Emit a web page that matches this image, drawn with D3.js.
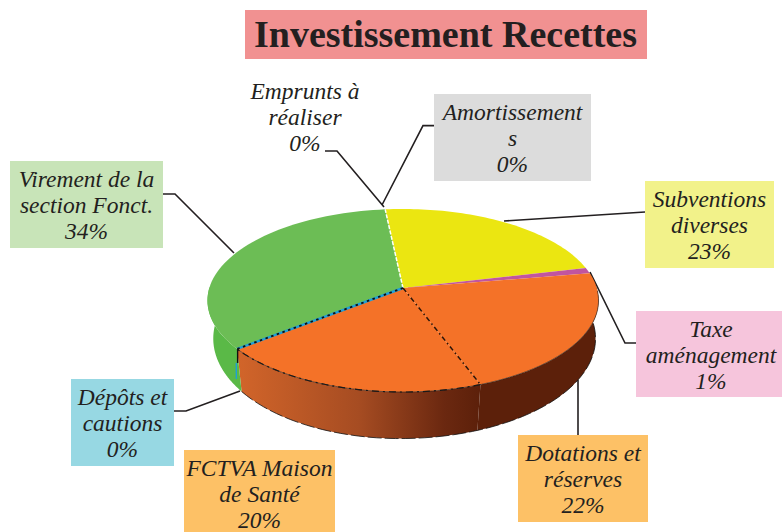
<!DOCTYPE html>
<html><head><meta charset="utf-8">
<script src="https://cdn.jsdelivr.net/npm/d3@7"></script>
<style>html,body{margin:0;padding:0;background:#fff}svg{display:block}</style>
</head><body><svg id="c" width="782" height="532"></svg>
<script>
const categories = ["Subventions diverses","Taxe aménagement","Dotations et réserves","FCTVA Maison de Santé","Dépôts et cautions","Virement de la section Fonct.","Emprunts à réaliser","Amortissements"];
const values = [23,1,22,20,0,34,0,0];
const sliceColors = ["#ebe611","#c1559f","#f47228","#f47228","#1f9fd8","#6cbd55","#ffffff","#dcdcdc"];
const labelLines = [["Subventions","diverses","23%"],["Taxe","aménagement","1%"],["Dotations et","réserves","22%"],["FCTVA Maison","de Santé","20%"],["Dépôts et","cautions","0%"],["Virement de la","section Fonct.","34%"],["Emprunts à","réaliser","0%"],["Amortissement","s","0%"]];
const boxFills = ["#f2f28a","#f6c5dc","#fdc166","#fdc166","#97d8e3","#c8e4b8",null,"#dcdcdc"];
const boxes = [[645,181,129,87],[636,311,146,86],[518,435,130,87],[184,450,151,82],[71,379,103,87],[10,161,153,87],[232,73,146,87],[434,94,157,87]];
const textDx = [0,2,0,0,0,0,0,0];
const leaders = [[[645,212],[504,221]],[[636,343],[625,343],[590,272]],[[578,435],[578,380]],null,[[174,411],[186,411],[240,391]],[[163,194],[175,194],[234,253]],[[325,151],[337,151],[384,207]],[[434,125.6],[423,125.6],[382,205]]];

const svg = d3.select("#c");
const serif = "'Liberation Serif',serif";
const ink = "#231f20";

// pie angles, clockwise from the back of the disc
const startAngle = -6*Math.PI/180;
const arcs = d3.pie().sort(null).value(d=>d).startAngle(startAngle).endAngle(startAngle+2*Math.PI)(values);

// perspective projection of the disc
const cx=403, cy=288, R=193.7, B=89.8, K=0.1366;
const px=a=>cx+R*Math.sin(a)/(1+K*Math.cos(a));
const py=a=>cy-B*Math.cos(a)/(1+K*Math.cos(a));
const bx=a=>cx-3+(px(a)-cx)*(Math.sin(a)<0?0.955:1);
const by=a=>338+1.093*(py(a)-300);
const ring=(a0,a1)=>d3.range(0,61).map(i=>a0+(a1-a0)*i/60);
const line=d3.line();
const defs=svg.append("defs");
const grad=defs.append("linearGradient").attr("id","fctva").attr("gradientUnits","userSpaceOnUse")
  .attr("x1",px(arcs[3].endAngle)).attr("x2",px(arcs[3].startAngle)).attr("y1",0).attr("y2",0);
[[0,"#d2652a"],[0.5,"#a64c22"],[0.85,"#6b2810"],[1,"#5c200a"]].forEach(s=>grad.append("stop").attr("offset",s[0]).attr("stop-color",s[1]));

// title
svg.append("rect").attr("x",245).attr("y",10).attr("width",402).attr("height",49).attr("fill","#f19191");
svg.append("text").attr("x",445.5).attr("y",47).attr("text-anchor","middle").attr("font-family",serif).attr("font-weight","bold").attr("font-size",38).attr("fill",ink).text("Investissement Recettes");

// leaders
leaders.forEach(l=>{ if(l) svg.append("path").attr("d",line(l)).attr("fill","none").attr("stroke",ink).attr("stroke-width",1.6); });

// side walls
const wall=(a0,a1,fill)=>{
  const top=ring(a0,a1).map(a=>[px(a),py(a)]);
  const bot=ring(a0,a1).reverse().map(a=>[bx(a),by(a)]);
  return svg.append("path").attr("d",line(top.concat(bot))+"Z").attr("fill",fill);
};
wall(arcs[2].startAngle,arcs[2].endAngle,"#5c200a");
wall(arcs[3].startAngle,arcs[3].endAngle,"url(#fctva)");
wall(arcs[5].startAngle,arcs[5].startAngle+(arcs[5].endAngle-arcs[5].startAngle)*0.32,"#5ab947");
// bottom outline
svg.append("path").attr("d",line(ring(arcs[5].startAngle,arcs[2].startAngle).map(a=>[bx(a),by(a)])))
  .attr("fill","none").attr("stroke","#111").attr("stroke-width",0.8).attr("stroke-dasharray","14 3");

// top face
arcs.forEach((d,i)=>{
  if(d.endAngle-d.startAngle<=0) return;
  const pts=[[cx,cy]].concat(ring(d.startAngle,d.endAngle).map(a=>[px(a),py(a)]));
  svg.append("path").attr("d",line(pts)+"Z").attr("fill",sliceColors[i]);
});
const seam=(a,color,w,dash)=>svg.append("path").attr("d",line([[cx,cy],[px(a),py(a)]]))
  .attr("stroke",color).attr("stroke-width",w).attr("stroke-dasharray",dash).attr("fill","none");
seam(arcs[0].startAngle,"#ffffff",1.5,"4 1.5");
seam(arcs[4].startAngle,"#1f9fd8",2.4,null);
seam(arcs[4].startAngle,"#111",1.8,"2.5 3.5");
seam(arcs[3].startAngle,"#2a1408",1.5,"5 3 1.5 3");
// rim outline
svg.append("path").attr("d",line(ring(arcs[3].startAngle,arcs[4].startAngle).map(a=>[px(a),py(a)])))
  .attr("fill","none").attr("stroke","#111").attr("stroke-width",1.2).attr("stroke-dasharray","7 4 2 4");
svg.append("path").attr("d",line(ring(arcs[5].startAngle,arcs[2].startAngle+0.2).map(a=>[px(a),py(a)])))
  .attr("fill","none").attr("stroke","#222").attr("stroke-width",0.6);
// dark corner at the left of the front wall
const a4=arcs[4].startAngle;
svg.append("path").attr("d",line([[px(a4)+0.5,py(a4)],[px(a4)+0.5,py(a4)+14]])).attr("stroke","#111").attr("stroke-width",1.4);
svg.append("path").attr("d",line([[px(a4)-0.8,py(a4)+14],[px(a4)-0.8,py(a4)+30]])).attr("stroke","#1f9fd8").attr("stroke-width",1.4);

// labels
categories.forEach((c,i)=>{
  const b=boxes[i];
  const g=svg.append("g").attr("class","label").attr("data-category",c);
  if(boxFills[i]) g.append("rect").attr("x",b[0]).attr("y",b[1]).attr("width",b[2]).attr("height",b[3]).attr("fill",boxFills[i]);
  labelLines[i].forEach((t,j)=>g.append("text").attr("x",b[0]+b[2]/2+textDx[i]).attr("y",b[1]+26+j*26)
    .attr("text-anchor","middle").attr("font-family",serif).attr("font-style","italic").attr("font-size",23.5).attr("fill",ink).text(t));
});
</script></body></html>
